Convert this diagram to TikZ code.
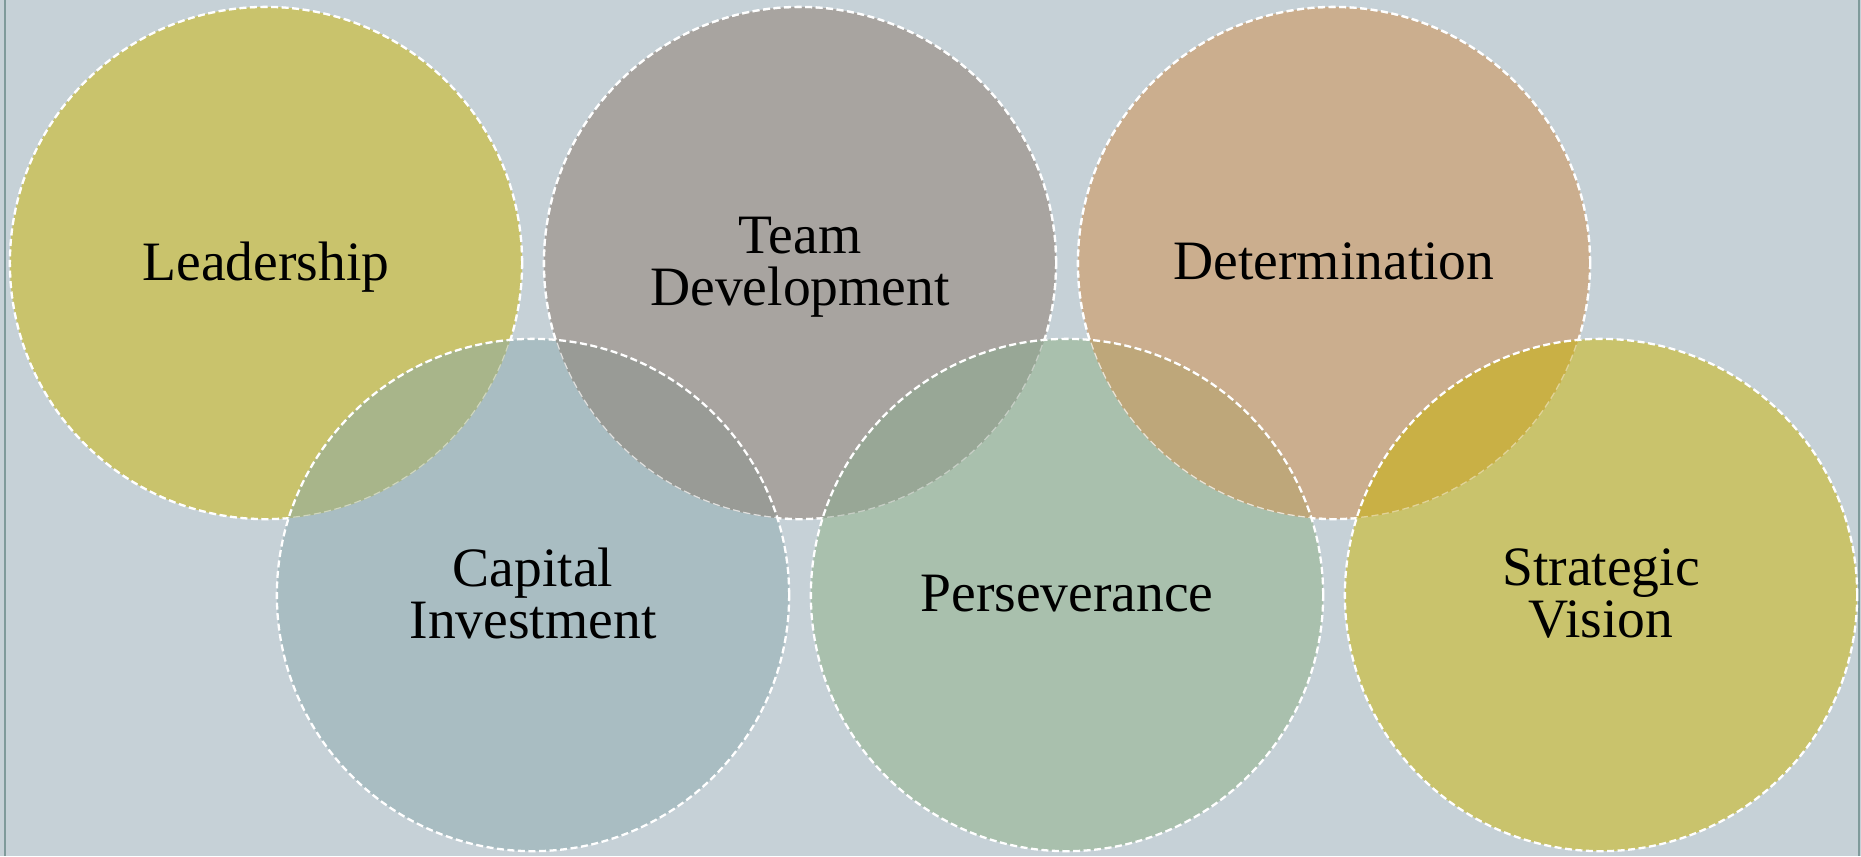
\documentclass[tikz,border=0pt]{standalone}
\usepackage{fontspec}
\setmainfont{Liberation Serif}
\definecolor{slidebg}{HTML}{C6D1D7}
\definecolor{slideedge}{HTML}{7F9A9A}
\definecolor{leadfill}{HTML}{C9C36C}
\definecolor{teamfill}{HTML}{A8A4A0}
\definecolor{detfill}{HTML}{CBAE8E}
\definecolor{capfill}{HTML}{A9BDC2}
\definecolor{persfill}{HTML}{A9C0AD}
\definecolor{stratfill}{HTML}{C9C36C}
\definecolor{leadcap}{HTML}{A8B58A}
\definecolor{teamcap}{HTML}{999B96}
\definecolor{teampers}{HTML}{98A796}
\definecolor{detpers}{HTML}{BEA77A}
\definecolor{detstrat}{HTML}{C9B045}

\begin{document}
\begin{tikzpicture}[x=0.01cm,y=-0.01cm,
  rim/.style={draw=white,line width=0.65pt,dash pattern=on 2pt off 1pt},
  venn/.style={circle,minimum size=5.12cm,inner sep=0pt,align=center,
    text depth=1pt,font=\fontsize{15.8}{14.8}\selectfont},
  lens/.style={rim,draw opacity=0.45}]
\useasboundingbox (0,0) rectangle (1861,856);
\fill[slidebg] (0,0) rectangle (1861,856);
\draw[slideedge,line width=0.6pt] (5,0) -- (5,856);
\draw[slideedge,line width=0.6pt] (1859,0) -- (1859,856);
% top row
\node[venn,rim,fill=leadfill] (lead) at (266,263) {Leadership};
\node[venn,rim,fill=teamfill] (team) at (800,263) {Team\\Development};
\node[venn,rim,fill=detfill] (det) at (1334,263) {Determination};
% bottom row
\node[venn,fill=capfill] (cap) at (533,595) {Capital\\Investment};
\node[venn,fill=persfill] (pers) at (1067,595) {Perseverance};
\node[venn,fill=stratfill] (strat) at (1601,595) {Strategic\\Vision};
% overlaps
\foreach \up/\low/\mix in {lead/cap/leadcap,team/cap/teamcap,team/pers/teampers,det/pers/detpers,det/strat/detstrat}{
  \begin{scope}
    \clip (\up.center) circle[radius=2.56cm];
    \fill[\mix] (\low.center) circle[radius=2.56cm];
    \draw[lens] (\up.center) circle[radius=2.56cm];
  \end{scope}
}
\foreach \low in {cap,pers,strat}
  \draw[rim] (\low.center) circle[radius=2.56cm];
\end{tikzpicture}
\end{document}
